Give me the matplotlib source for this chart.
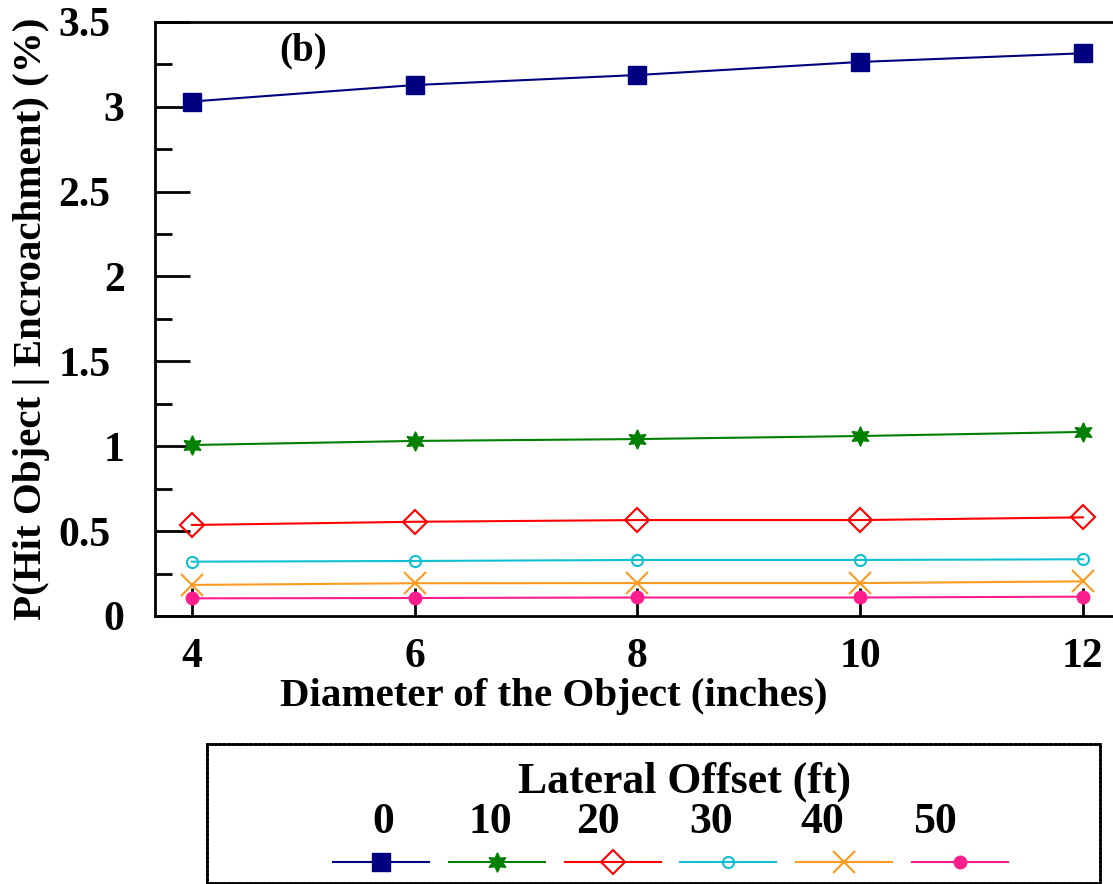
import matplotlib
matplotlib.use('Agg')
import matplotlib.pyplot as plt
from matplotlib.ticker import FuncFormatter
from matplotlib.transforms import ScaledTranslation

# Dados
diametro = [4, 6, 8, 10, 12]
offsets = ['0', '10', '20', '30', '40', '50']
p_0 = [3.03, 3.127, 3.186, 3.263, 3.314]
p_10 = [1.007, 1.031, 1.042, 1.060, 1.084]
p_20 = [0.536, 0.555, 0.565, 0.565, 0.581]
p_30 = [0.320, 0.324, 0.330, 0.330, 0.334]
p_40 = [0.183, 0.193, 0.194, 0.194, 0.204]
p_50 = [0.104, 0.106, 0.109, 0.109, 0.114]
series = [p_0, p_10, p_20, p_30, p_40, p_50]
y_major = [0, 0.5, 1, 1.5, 2, 2.5, 3, 3.5]
y_minor = [0.25, 0.75, 1.25, 1.75, 2.25, 2.75, 3.25]

# Estilo de cada serie
estilos = [
    dict(color='#000080', marker='s', ms=13, mfc='#000080', mew=1),
    dict(color='#008000', marker=(6, 1, 0), ms=14, mfc='#008000', mew=1),
    dict(color='#FF0000', marker='D', ms=12, mfc='none', mew=1.5),
    dict(color='#10C0D0', marker='o', ms=8, mfc='none', mew=1.5),
    dict(color='#FF9A20', marker='x', ms=16, mfc='none', mew=1.5),
    dict(color='#FF1E8C', marker='o', ms=9, mfc='#FF1E8C', mew=1),
]

plt.rcParams.update({'font.family': 'Liberation Serif', 'font.weight': 'bold',
                     'axes.labelweight': 'bold'})

W, H = 1113, 884
fig = plt.figure(figsize=(W / 100, H / 100), dpi=100)
ax = fig.add_axes([155 / W, (H - 616) / H, 958 / W, (616 - 21.7) / H])

for vals, st in zip(series, estilos):
    ax.plot(diametro, vals, lw=1.5, clip_on=False, zorder=3, **st)

ax.set_xlim(3.668, 12.27)
ax.set_ylim(0, 3.5)
ax.set_xticks(diametro)
ax.set_yticks(y_major)
ax.set_yticks(y_minor, minor=True)
ax.yaxis.set_major_formatter(FuncFormatter(lambda v, p: f'{v:g}'))

for s in ['left', 'top', 'bottom']:
    ax.spines[s].set_linewidth(2)
ax.spines['right'].set_visible(False)

ax.tick_params(axis='both', which='both', direction='in', width=2, labelsize=30)
ax.tick_params(axis='y', which='major', length=25, pad=32)
ax.tick_params(axis='y', which='minor', length=12)
ax.tick_params(axis='x', which='major', length=20, pad=16)

# inteiros do eixo Y ficam um pouco mais a direita, como no original
for lab in ax.get_yticklabels():
    if '.' not in lab.get_text():
        lab.set_transform(lab.get_transform() + ScaledTranslation(0.14, 0, fig.dpi_scale_trans))

ax.set_xlabel('Diameter of the Object (inches)', fontsize=29.5)
ax.xaxis.set_label_coords(0.4165, -0.105)
ax.set_ylabel('P(Hit Object | Encroachment) (%)', fontsize=29.5, labelpad=6)

ax.text(5.0, 3.33, '(b)', fontsize=28, ha='center', va='center')

# Legenda desenhada a mao (rotulos acima dos simbolos)
lax = fig.add_axes([207 / W, 1 / H, 893 / W, 139 / H])
lax.set_xlim(0, 893)
lax.set_ylim(0, 139)
lax.set_xticks([])
lax.set_yticks([])
for s in lax.spines.values():
    s.set_linewidth(2)
    s.set_linestyle((0, (1, 0.6)))

lax.text(478, 90, 'Lateral Offset (ft)', fontsize=31.5, ha='center', va='baseline')
centros_rotulo = [176, 283, 391, 504, 615, 728]
for i, (lab, st) in enumerate(zip(offsets, estilos)):
    hx = 174 + i * 115.8
    lax.plot([hx - 48, hx, hx + 48], [21, 21, 21], lw=1.5, markevery=[1], **st)
    lax.text(centros_rotulo[i], 50, lab, fontsize=31.5, ha='center', va='baseline')

fig.savefig('out.png', dpi=100)
